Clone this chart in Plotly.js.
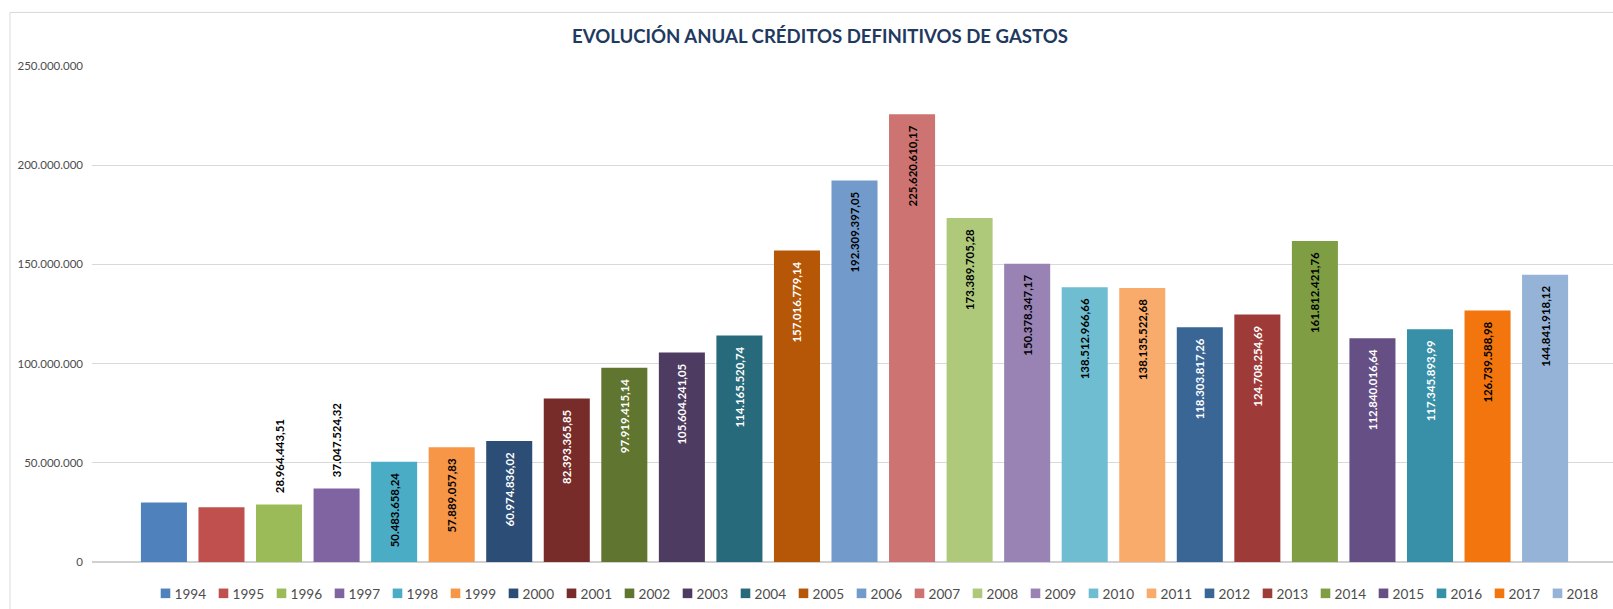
<!DOCTYPE html>
<html>
<head>
<meta charset="utf-8">
<script src="https://cdn.plot.ly/plotly-3.0.1.min.js"></script>
<style>
html,body{margin:0;padding:0;background:#fff;overflow:hidden;}
#chart{width:1613px;height:609px;}
</style>
</head>
<body>
<div id="chart"></div>
<script>
// ---- data ----
const years = ['1994','1995','1996','1997','1998','1999','2000','2001','2002','2003','2004','2005','2006','2007','2008','2009','2010','2011','2012','2013','2014','2015','2016','2017','2018'];
const credits = [30050000, 27600000, 28964443.51, 37047524.32, 50483658.24, 57889057.83, 60974836.02, 82393365.85, 97919415.14, 105604241.05, 114165520.74, 157016779.14, 192309397.05, 225620610.17, 173389705.28, 150378347.17, 138512966.66, 138135522.68, 118303817.26, 124708254.69, 161812421.76, 112840016.64, 117345893.99, 126739588.98, 144841918.12];
const unlabeledYears = ['1994','1995'];
const outsideLabelYears = ['1996','1997'];
const colors = ['#4F81BD','#C0504D','#9BBB59','#8064A2','#4BACC6','#F79646','#2C4D75','#772C2A','#5F7530','#4D3B62','#276A7C','#B65708','#729ACA','#CD7371','#AFC97A','#9983B5','#6FBDD1','#F9AB6B','#3A6696','#9E3A38','#7F9D43','#664F84','#378FA8','#F2750D','#95B3D7'];
const yTicks = [0, 50000000, 100000000, 150000000, 200000000, 250000000];

function lum(hex){
  const c=[1,3,5].map(i=>parseInt(hex.substr(i,2),16)/255).map(v=>v<=0.03928?v/12.92:Math.pow((v+0.055)/1.055,2.4));
  return 0.2126*c[0]+0.7152*c[1]+0.0722*c[2];
}

const FONT = 'Lato, "Open Sans", sans-serif';
const NB = '\u00A0';
const traces = years.map((yr,i)=>{
  const hide = unlabeledYears.includes(yr);
  const outside = outsideLabelYears.includes(yr);
  const txtColor = outside ? '#000000' : (lum(colors[i]) > 0.26 ? '#000000' : '#FFFFFF');
  const f = {family:FONT, size:11.4, color:txtColor, weight:'bold'};
  return {
    type:'bar', name: yr, x:[yr], y:[credits[i]],
    marker:{color:colors[i], line:{width:0}},
    texttemplate: hide ? '' : (outside ? NB+NB+NB+'%{y:,.2f}' : '%{y:,.2f}'+NB+NB+NB),
    textposition: outside ? 'outside' : 'inside',
    insidetextanchor: 'end',
    textangle: -90,
    constraintext: 'none',
    cliponaxis: false,
    textfont: f, insidetextfont: f, outsidetextfont: f,
    hoverinfo:'name+y'
  };
});

const W=1613,H=609,L=92,T=66,B=43;
const layout = {
  width:W, height:H,
  margin:{l:L, r:0, t:T, b:B, pad:0},
  paper_bgcolor:'#ffffff', plot_bgcolor:'#ffffff',
  separators: ',.',
  barmode:'relative', bargap:0.2,
  font:{family:FONT, color:'#595959'},
  title:{text:'EVOLUCIÓN ANUAL CRÉDITOS DEFINITIVOS DE GASTOS', font:{family:FONT, size:18.6, color:'#1F3A60', weight:'bold'},
         xref:'container', x:820/W, xanchor:'center', yref:'container', y:1-36/H, yanchor:'middle'},
  xaxis:{type:'category', categoryorder:'array', categoryarray:years, range:[-1.25, 25.18],
         showticklabels:false, ticks:'', showgrid:false, zeroline:false,
         showline:false, fixedrange:true},
  yaxis:{range:[0,250000000], tickvals:yTicks, tickformat:',d', showgrid:true, gridcolor:'#D9D9D9', gridwidth:1,
         zeroline:true, zerolinecolor:'#D0D0D0', zerolinewidth:1.5, showline:false, ticks:'',
         ticklabelstandoff:8, tickfont:{family:FONT, size:11.5, color:'#4D4D4D'}, fixedrange:true},
  showlegend:true,
  legend:{orientation:'h', x:(145.5-L)/(W-L), xref:'paper', xanchor:'left', y:(566-598)/500, yanchor:'middle',
          font:{family:FONT, size:13.6, color:'#4D4D4D'}, entrywidth:13, entrywidthmode:'pixels', itemwidth:30,
          traceorder:'normal', bgcolor:'rgba(0,0,0,0)'},
  shapes:[{type:'rect', xref:'paper', yref:'paper', x0:(10-L)/(W-L), x1:1.2, y0:-0.3, y1:(566-12)/500,
           line:{color:'#D9D9D9', width:1}, fillcolor:'rgba(0,0,0,0)', layer:'below'}]
};

Plotly.newPlot('chart', traces, layout, {displayModeBar:false, staticPlot:true}).then(gd=>{
  // legend labels sit close to their swatches in the original
  gd.querySelectorAll('.legend .legendtext').forEach(t=>t.setAttribute('x', 29));
  gd.querySelectorAll('.legend .legendpoints path').forEach(p=>{
    const tr = p.getAttribute('transform') || '';
    p.setAttribute('transform', tr + ' scale(0.8)');
  });
  gd.querySelectorAll('.legend [clip-path]').forEach(e=>e.removeAttribute('clip-path'));
});
</script>
</body>
</html>
